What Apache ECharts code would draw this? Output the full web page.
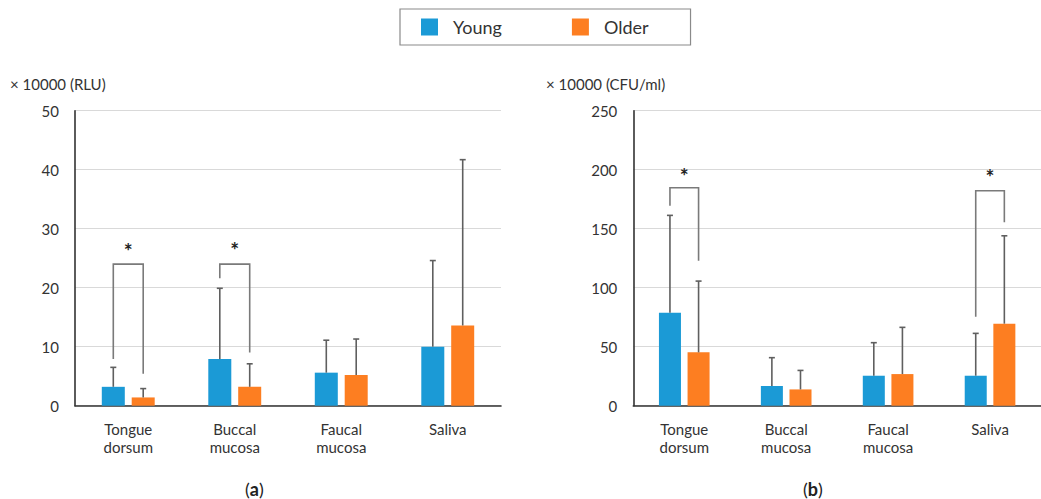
<!DOCTYPE html>
<html><head><meta charset="utf-8">
<script src="https://cdn.jsdelivr.net/npm/echarts@6/dist/echarts.min.js"></script>
<style>html,body{margin:0;padding:0;background:#fff}#c{width:1041px;height:499px}</style>
</head><body><div id="c"></div>
<script>
const categories = ['Tongue\ndorsum', 'Buccal\nmucosa', 'Faucal\nmucosa', 'Saliva'];
// (a) RLU x10000
const rluYoung = [3.2, 7.9, 5.6, 10.0];
const rluYoungErr = [6.5, 19.9, 11.1, 24.6];
const rluOlder = [1.4, 3.2, 5.2, 13.6];
const rluOlderErr = [2.9, 7.1, 11.3, 41.7];
// (b) CFU/ml x10000
const cfuYoung = [78.8, 16.7, 25.4, 25.4];
const cfuYoungErr = [161.3, 40.7, 53.4, 61.3];
const cfuOlder = [45.2, 13.8, 26.8, 69.5];
const cfuOlderErr = [105.6, 29.9, 66.4, 144.0];
// significance brackets: [category, left bottom, top, right bottom, star]
const rluBrackets = [[0, 7.9, 24.0, 5.4, 26.3], [1, 21.6, 24.0, 9.0, 26.4]];
const cfuBrackets = [[0, 169.5, 184.7, 122.9, 195], [3, 75.4, 182.2, 155.4, 194.5]];
const rluTicks = {min: 0, max: 50, interval: 10};
const cfuTicks = {min: 0, max: 250, interval: 50};

const BLUE = '#1b9ad6', ORANGE = '#fd7e21';
const FONT = 'Lato';
const BW = 0.216, GAP = 0.3;
const OFF = (BW + BW * GAP) / 2;

function errSeries(idx, vals, errs, side) {
  return {
    type: 'custom', xAxisIndex: idx, yAxisIndex: idx, z: 5,
    data: vals.map((v, i) => [i, v, errs[i]]),
    renderItem: function (params, api) {
      const band = api.size([1, 0])[0];
      const c0 = api.coord([api.value(0), api.value(1)]);
      const c1 = api.coord([api.value(0), api.value(2)]);
      const x = c0[0] + side * OFF * band;
      const st = {stroke: '#5f5f5f', lineWidth: 1.6};
      return {type: 'group', children: [
        {type: 'line', shape: {x1: x, y1: c0[1], x2: x, y2: c1[1]}, style: st},
        {type: 'line', shape: {x1: x - 3, y1: c1[1], x2: x + 3, y2: c1[1]}, style: st}
      ]};
    }
  };
}
function bracketSeries(idx, br) {
  return {
    type: 'custom', xAxisIndex: idx, yAxisIndex: idx, z: 6,
    data: br,
    renderItem: function (params, api) {
      const band = api.size([1, 0])[0];
      const cat = api.value(0);
      const pL = api.coord([cat, api.value(1)]);
      const pT = api.coord([cat, api.value(2)]);
      const pR = api.coord([cat, api.value(3)]);
      const pS = api.coord([cat, api.value(4)]);
      const xl = pL[0] - OFF * band, xr = pL[0] + OFF * band;
      return {type: 'group', children: [
        {type: 'polyline', shape: {points: [[xl, pL[1]], [xl, pT[1]], [xr, pT[1]], [xr, pR[1]]]},
         style: {stroke: '#7a7a7a', lineWidth: 1.6, fill: null}},
        {type: 'text', x: pS[0], y: pS[1], style: {text: '*', fill: '#222', font: 'bold 21px ' + FONT, align: 'center', verticalAlign: 'middle'}}
      ]};
    }
  };
}
function xAx(idx) {
  return {type: 'category', gridIndex: idx, data: categories,
    axisLine: {lineStyle: {color: '#333', width: 1.6}}, axisTick: {show: false},
    axisLabel: {color: '#333', fontFamily: FONT, fontSize: 15, lineHeight: 18, margin: 14}};
}
function yAx(idx, t) {
  return {type: 'value', gridIndex: idx, min: t.min, max: t.max, interval: t.interval,
    axisLine: {show: true, lineStyle: {color: '#333', width: 1.6}}, axisTick: {show: false},
    axisLabel: {color: '#333', fontFamily: FONT, fontSize: 15, margin: 16},
    splitLine: {lineStyle: {color: '#d9d9d9', width: 1.2}}};
}
function barS(idx, name, vals, color) {
  return {type: 'bar', name: name, xAxisIndex: idx, yAxisIndex: idx, data: vals,
    barWidth: (BW * 100) + '%', barGap: (GAP * 100) + '%', itemStyle: {color: color}, z: 3};
}

const chart = echarts.init(document.getElementById('c'), null, {renderer: 'svg'});
chart.setOption({
  animation: false,
  backgroundColor: '#fff',
  textStyle: {fontFamily: FONT},
  legend: {
    data: ['Young', 'Older'], left: 400, top: 9, icon: 'rect',
    itemWidth: 17, itemHeight: 17, itemGap: 70,
    borderColor: '#8a8a8a', borderWidth: 1.2, padding: [9, 42, 9, 21],
    textStyle: {fontFamily: FONT, fontSize: 18, color: '#333', padding: [0, 0, 0, 10]}
  },
  grid: [
    {left: 75, top: 110.7, width: 426, height: 295},
    {left: 633.3, top: 110.7, width: 416, height: 295}
  ],
  xAxis: [xAx(0), xAx(1)],
  yAxis: [yAx(0, rluTicks), yAx(1, cfuTicks)],
  series: [
    barS(0, 'Young', rluYoung, BLUE), barS(0, 'Older', rluOlder, ORANGE),
    barS(1, 'Young', cfuYoung, BLUE), barS(1, 'Older', cfuOlder, ORANGE),
    errSeries(0, rluYoung, rluYoungErr, -1), errSeries(0, rluOlder, rluOlderErr, 1),
    errSeries(1, cfuYoung, cfuYoungErr, -1), errSeries(1, cfuOlder, cfuOlderErr, 1),
    bracketSeries(0, rluBrackets), bracketSeries(1, cfuBrackets)
  ],
  graphic: [
    {type: 'text', left: 10, top: 76, style: {text: '× 10000 (RLU)', font: '15px ' + FONT, fill: '#333'}},
    {type: 'text', left: 546, top: 76, style: {text: '× 10000 (CFU/ml)', font: '15px ' + FONT, fill: '#333'}},
    {type: 'text', left: 245, top: 480, style: {text: '({b|a})', font: '18px ' + FONT, fill: '#222',
      rich: {b: {fontWeight: 'bold', fontSize: 18, fontFamily: FONT}}}},
    {type: 'text', left: 803, top: 480, style: {text: '({b|b})', font: '18px ' + FONT, fill: '#222',
      rich: {b: {fontWeight: 'bold', fontSize: 18, fontFamily: FONT}}}}
  ]
});
</script></body></html>
